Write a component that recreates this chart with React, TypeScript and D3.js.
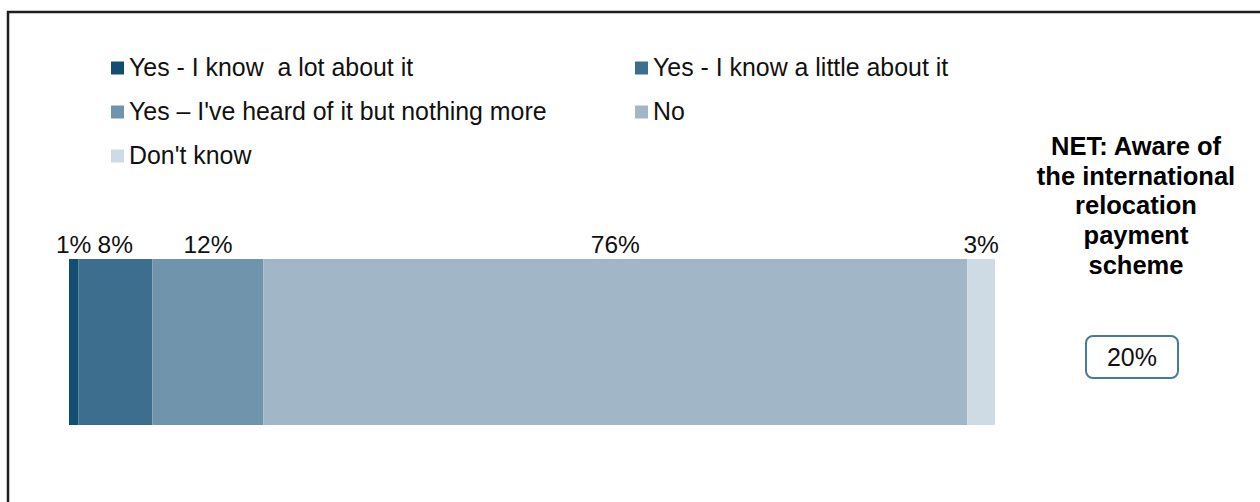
import React from "react";
import * as d3 from "d3";

const categories = [
  "Yes - I know  a lot about it",
  "Yes - I know a little about it",
  "Yes \u2013 I've heard of it but nothing more",
  "No",
  "Don't know",
];
const values = [1, 8, 12, 76, 3];
const valueLabels = ["1%", "8%", "12%", "76%", "3%"];
const colors = ["#124e72", "#3e6e8e", "#7094ab", "#a1b7c7", "#cedbe4"];
const netTitle = ["NET: Aware of", "the international", "relocation", "payment", "scheme"];
const netValue = "20%";

const W = 1260;
const H = 502;
const FONT = "Arial, 'Liberation Sans', sans-serif";

export default function App() {
  const x = d3.scaleLinear().domain([0, d3.sum(values)]).range([69, 995]);
  const starts = values.map((_, i) => d3.sum(values.slice(0, i)));
  const barTop = 259;
  const barH = 166;

  // legend layout: 2 columns, row-major
  const legendCols = [111, 635];
  const legendRowY = [68, 112, 156];

  return (
    <svg
      width={W}
      height={H}
      style={{ position: "absolute", left: 0, top: 0, display: "block", background: "#fff" }}
      fontFamily={FONT}
    >
      <rect x={8} y={12} width={1300} height={600} fill="none" stroke="#1e1e1e" strokeWidth={2.5} />

      {categories.map((c, i) => {
        const cx = legendCols[i % 2];
        const cy = legendRowY[Math.floor(i / 2)];
        return (
          <g key={c}>
            <rect x={cx} y={cy - 6.5} width={13} height={13} fill={colors[i]} />
            <text x={cx + 18} y={cy + 7.6} fontSize={24.9} fill="#111" style={{ whiteSpace: "pre" }}>
              {c}
            </text>
          </g>
        );
      })}

      {values.map((v, i) => (
        <rect
          key={i}
          x={x(starts[i])}
          y={barTop}
          width={x(starts[i] + v) - x(starts[i])}
          height={barH}
          fill={colors[i]}
        />
      ))}

      {values.map((v, i) => (
        <text
          key={"l" + i}
          x={(x(starts[i]) + x(starts[i] + v)) / 2}
          y={253}
          textAnchor="middle"
          fontSize={24.5}
          fill="#111"
        >
          {valueLabels[i]}
        </text>
      ))}

      {netTitle.map((t, i) => (
        <text
          key={t}
          x={1136}
          y={155 + i * 29.7}
          textAnchor="middle"
          fontSize={25.5}
          fontWeight="bold"
          fill="#000"
        >
          {t}
        </text>
      ))}

      <rect x={1086} y={336} width={92} height={42} rx={7} ry={7} fill="#fff" stroke="#4a7a9b" strokeWidth={2} />
      <text x={1132} y={366} textAnchor="middle" fontSize={25} fill="#111">
        {netValue}
      </text>
    </svg>
  );
}
